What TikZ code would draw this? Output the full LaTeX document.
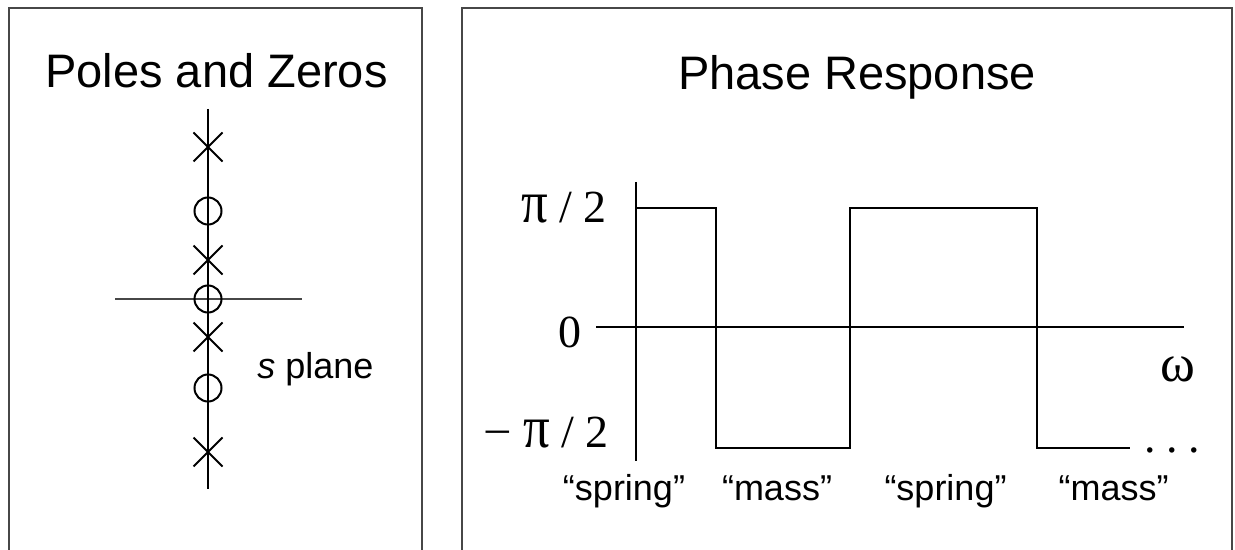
\documentclass[tikz,border=0pt]{standalone}
\usepackage{fontspec}
\setmainfont{Liberation Serif}
\setsansfont{Liberation Sans}
\usetikzlibrary{shapes.misc}
\newcommand{\bigpi}{\scalebox{1.15}[1.3]{π}}
\tikzset{
  frame/.style={draw=black!72, line width=0.75pt},
  axis/.style={draw=black, line width=0.65pt},
  pzaxis/.style={draw=black!72, line width=0.75pt},
  plot/.style={draw=black, line width=0.65pt},
  pole/.style={cross out, draw=black, line width=1pt, minimum size=13.5pt, inner sep=0pt},
  zero/.style={circle, draw=black, line width=1pt, minimum size=13.5pt, inner sep=0pt},
  title/.style={font=\sffamily\fontsize{23.5pt}{26pt}\selectfont, inner sep=0pt},
  lbl/.style={font=\sffamily\fontsize{18pt}{20pt}\selectfont, inner sep=0pt},
  val/.style={font=\rmfamily\fontsize{23pt}{25pt}\selectfont, inner sep=0pt}
}
\begin{document}
\begin{tikzpicture}[x=0.5pt, y=-0.5pt]
\useasboundingbox (0,0) rectangle (1235,550);
% panel frames (open at the bottom)
\draw[frame] (9,550) -- (9,8) -- (422,8) -- (422,550);
\draw[frame] (462,550) -- (462,8) -- (1232,8) -- (1232,550);
% titles
\node[title, anchor=base] (t1) at (216.5,88) {Poles and Zeros};
\node[title, anchor=base] (t2) at (857,90) {Phase Response};
% pole-zero plot
\coordinate (vt) at (208,109);
\coordinate (vb) at (208,489);
\coordinate (hl) at (115,299);
\coordinate (hr) at (302,299);
\draw[pzaxis] (hl) -- (hr);
\draw[axis] (vt) -- (vb);
\node[pole] (p1) at (208,147) {};
\node[zero] (z1) at (208,211) {};
\node[pole] (p2) at (208,260) {};
\node[zero] (z2) at (208,299) {};
\node[pole] (p3) at (208,337) {};
\node[zero] (z3) at (208,388) {};
\node[pole] (p4) at (208,452) {};
\node[lbl, anchor=base west] (sp) at (257,378) {\textit{s} plane};
% phase response
\coordinate (yt) at (636,182);
\coordinate (yb) at (636,461);
\coordinate (xl) at (596,327);
\coordinate (xr) at (1184,327);
\draw[axis] (yt) -- (yb);
\draw[axis] (xl) -- (xr);
\coordinate (a0) at (636,208);
\coordinate (a1) at (716,208);
\coordinate (a2) at (716,448);
\coordinate (a3) at (850,448);
\coordinate (a4) at (850,208);
\coordinate (a5) at (1037,208);
\coordinate (a6) at (1037,448);
\coordinate (a7) at (1130,448);
\draw[plot] (a0) -- (a1) -- (a2) -- (a3) -- (a4) -- (a5) -- (a6) -- (a7);
\node[val, anchor=base east] (vp) at (607,223) {\bigpi\ / 2};
\node[val, anchor=base] (v0) at (569.5,347) {0};
\node[val, anchor=base east] (vm) at (609,447) {\scalebox{1.1}[1]{−} \bigpi\ / 2};
\node[val, anchor=base] (w) at (1178,381) {\scalebox{1.15}{ω}};
\node[val, anchor=base west] (dots) at (1144,452) {.\hspace{5.25pt}.\hspace{5.25pt}.};
\node[lbl, anchor=base] (s1) at (624,500) {“spring”};
\node[lbl, anchor=base] (m1) at (777,500) {“mass”};
\node[lbl, anchor=base] (s2) at (945.5,500) {“spring”};
\node[lbl, anchor=base] (m2) at (1113.5,500) {“mass”};
\end{tikzpicture}
\end{document}
